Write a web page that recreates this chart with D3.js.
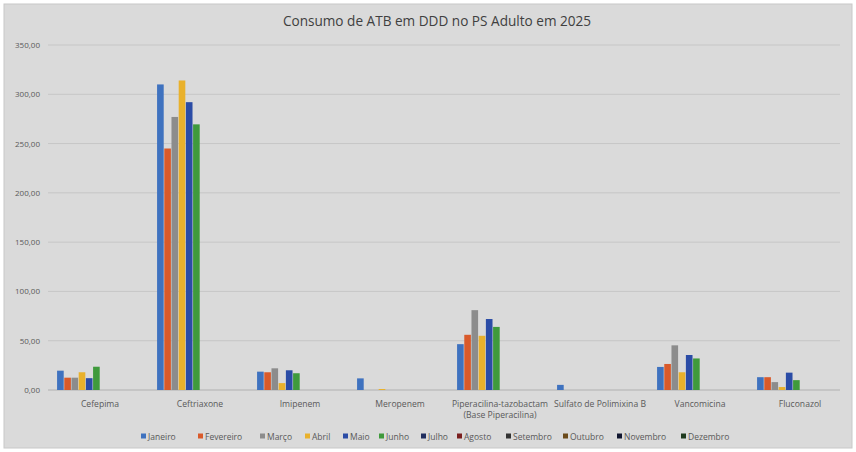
<!DOCTYPE html>
<html>
<head>
<meta charset="utf-8">
<script src="https://d3js.org/d3.v7.min.js"></script>
<style>
  body { margin: 0; background: #ffffff; }
  text { font-family: 'Open Sans', sans-serif; }
</style>
</head>
<body>
<div id="chartContainer"></div>
<script>
  var categories = ["Cefepima", "Ceftriaxone", "Imipenem", "Meropenem",
    "Piperacilina-tazobactam|(Base Piperacilina)", "Sulfato de Polimixina B",
    "Vancomicina", "Fluconazol"];
  var months = ["Janeiro", "Fevereiro", "Março", "Abril", "Maio", "Junho",
    "Julho", "Agosto", "Setembro", "Outubro", "Novembro", "Dezembro"];
  var colors = ["#3f72bf", "#d95a2b", "#8c8c8c", "#e9b12c", "#2b4ca6", "#3f9a3c",
    "#1f2d5e", "#7a1f1f", "#333333", "#6b4a1a", "#10162f", "#1e3a1e"];
  // one array per month, one value per antibiotic (null = no data yet)
  var janeiro   = [19.6, 310, 18.6, 11.8, 46.5, 5.2, 23.4, 13];
  var fevereiro = [12.5, 245, 18, 0, 56, 0, 26.4, 13];
  var marco     = [12.5, 277, 22, 0, 81, 0, 45.3, 8];
  var abril     = [18, 314, 7, 1, 55, 0, 18, 3];
  var maio      = [12, 292, 20, 0, 72, 0, 35.5, 17.6];
  var junho     = [23.6, 269.5, 17, 0, 64, 0, 32, 10];
  var empty     = [null, null, null, null, null, null, null, null];
  var series = [janeiro, fevereiro, marco, abril, maio, junho,
    empty, empty, empty, empty, empty, empty];
  var yTicks = [0, 50, 100, 150, 200, 250, 300, 350];

  var W = 856, H = 452;
  var svg = d3.select("#chartContainer").append("svg")
    .attr("width", W).attr("height", H);

  // chart background
  svg.append("rect").attr("x", 4).attr("y", 4).attr("width", 848).attr("height", 444)
    .attr("fill", "#dadada").attr("stroke", "#c8c8c8");

  var x0 = d3.scaleBand().domain(d3.range(categories.length)).range([50, 850]).paddingInner(0.13).paddingOuter(0.065);
  var x1 = d3.scaleBand().domain(d3.range(months.length)).range([0, x0.bandwidth()]).padding(0.08);
  var y = d3.scaleLinear().domain([0, 350]).range([390, 45]);

  // gridlines
  svg.append("g").selectAll("line").data(yTicks).enter().append("line")
    .attr("x1", 48).attr("x2", 840)
    .attr("y1", function (d) { return y(d); }).attr("y2", function (d) { return y(d); })
    .attr("stroke", function (d) { return d === 0 ? "#b0b0b0" : "#c6c6c6"; })
    .attr("stroke-width", 1);

  svg.append("g").selectAll("text").data(yTicks).enter().append("text")
    .attr("x", 40).attr("y", function (d) { return y(d) + 3; })
    .attr("text-anchor", "end").attr("font-size", 8).attr("fill", "#595959")
    .text(function (d) { return d3.format(".2f")(d).replace(".", ","); });

  // bars
  var groups = svg.append("g").selectAll("g").data(categories).enter().append("g")
    .attr("transform", function (d, i) { return "translate(" + x0(i) + ",0)"; });
  groups.selectAll("rect")
    .data(function (d, i) { return series.map(function (s, m) { return { m: m, v: s[i] }; }); })
    .enter().filter(function (d) { return d.v !== null; }).append("rect")
    .attr("x", function (d) { return x1(d.m); })
    .attr("width", x1.bandwidth())
    .attr("y", function (d) { return y(d.v); })
    .attr("height", function (d) { return y(0) - y(d.v); })
    .attr("fill", function (d) { return colors[d.m]; });

  // category labels
  var labels = svg.append("g").selectAll("text").data(categories).enter().append("text")
    .attr("x", function (d, i) { return x0(i) + x0.bandwidth() / 2; })
    .attr("y", 407).attr("text-anchor", "middle")
    .attr("font-size", 8.6).attr("fill", "#595959");
  labels.each(function (d) {
    var t = d3.select(this);
    var x = t.attr("x");
    d.split("|").forEach(function (line, k) {
      t.append("tspan").attr("x", x).attr("dy", k === 0 ? 0 : 11).text(line);
    });
  });

  // title
  svg.append("text").attr("x", 437).attr("y", 26).attr("text-anchor", "middle")
    .attr("font-size", 13.6).attr("fill", "#404040")
    .text("Consumo de ATB em DDD no PS Adulto em 2025");

  // legend
  var legendX = [141, 198, 260, 305, 343, 379, 421, 457, 506, 563, 617, 681];
  var legend = svg.append("g").selectAll("g").data(months).enter().append("g")
    .attr("transform", function (d, i) { return "translate(" + legendX[i] + ",437)"; });
  legend.append("rect").attr("x", 0).attr("y", -3.5).attr("width", 5).attr("height", 5)
    .attr("fill", function (d, i) { return colors[i]; });
  legend.append("text").attr("x", 7).attr("y", 3)
    .attr("font-size", 8.5).attr("fill", "#595959")
    .text(function (d) { return d; });
</script>
</body>
</html>
